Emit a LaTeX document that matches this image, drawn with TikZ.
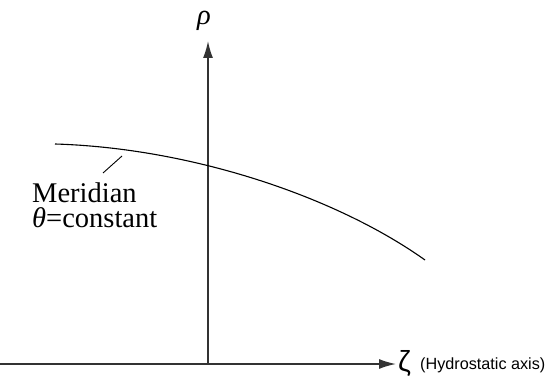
\documentclass[tikz,border=0pt]{standalone}
\usepackage{fontspec}
\setmainfont{Liberation Serif}
\setsansfont{Liberation Sans}
\usetikzlibrary{arrows.meta}

\tikzset{
  axis/.style={draw=black!80, line width=1.5pt, -{Latex[length=17pt, width=10pt]}},
  meridian/.style={draw=black, line width=1.1pt},
  bigtext/.style={font=\fontsize{28.5}{25}\selectfont, inner sep=0pt},
  smalltext/.style={font=\sffamily\fontsize{16.2}{18}\selectfont, inner sep=0pt}
}

\begin{document}
\begin{tikzpicture}[x=1pt, y=-1pt]
    \useasboundingbox (0,0) rectangle (553,382);

    % Axes
    \coordinate (xstart) at (0,364);
    \coordinate (xend) at (396,364);
    \coordinate (ystart) at (208,364);
    \coordinate (yend) at (208,41);
    \draw[axis] (xstart) -- (xend);
    \draw[axis] (ystart) -- (yend);

    % Axis labels
    \node[bigtext, anchor=south] (rho) at (204,31) {\textit{ρ}};
    \node[font=\sffamily\fontsize{29}{30}\selectfont, inner sep=0pt, anchor=west] (zeta) at (398,363) {ζ};
    \node[smalltext, anchor=west] (hydro) at (420,365) {(Hydrostatic axis)};

    % Meridian curve
    \coordinate (m1) at (55,144);
    \coordinate (m2) at (425,260);
    \draw[meridian] (m1) .. controls (190,148) and (335,196) .. (m2);

    % Label and leader
    \node[bigtext, align=left, anchor=base west] (mer) at (32,227)
         {Meridian\\\textit{θ}=constant};
    \coordinate (lead1) at (103,173);
    \coordinate (lead2) at (122,156);
    \draw[meridian, line width=0.9pt] (lead1) -- (lead2);
\end{tikzpicture}
\end{document}
